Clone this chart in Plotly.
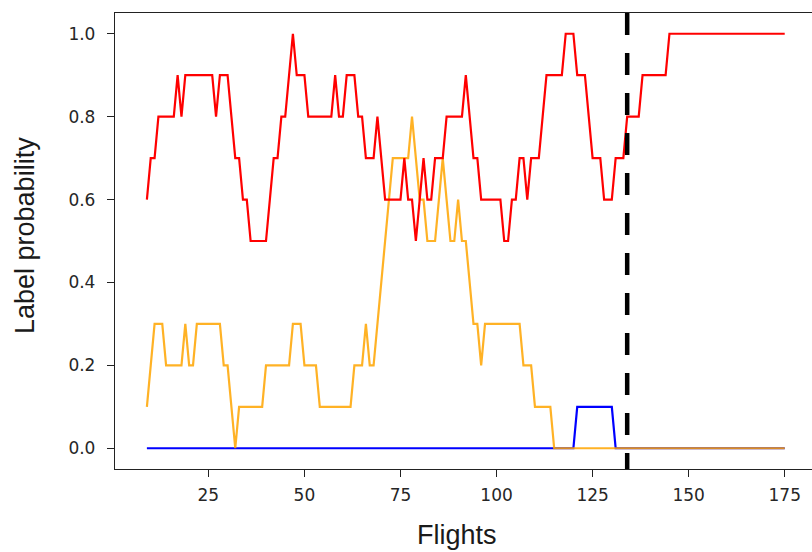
import plotly.graph_objects as go

flights = list(range(9, 176))

prob_red = [
    0.6, 0.7, 0.7, 0.8, 0.8, 0.8, 0.8, 0.8, 0.9, 0.8,   # 9-18
    0.9, 0.9, 0.9, 0.9, 0.9, 0.9, 0.9, 0.9, 0.8, 0.9,   # 19-28
    0.9, 0.9, 0.8, 0.7, 0.7, 0.6, 0.6, 0.5, 0.5, 0.5,   # 29-38
    0.5, 0.5, 0.6, 0.7, 0.7, 0.8, 0.8, 0.9, 1.0, 0.9,   # 39-48
    0.9, 0.9, 0.8, 0.8, 0.8, 0.8, 0.8, 0.8, 0.8, 0.9,   # 49-58
    0.8, 0.8, 0.9, 0.9, 0.9, 0.8, 0.8, 0.7, 0.7, 0.7,   # 59-68
    0.8, 0.7, 0.6, 0.6, 0.6, 0.6, 0.6, 0.7, 0.6, 0.6,   # 69-78
    0.5, 0.6, 0.7, 0.6, 0.6, 0.7, 0.7, 0.7, 0.8, 0.8,   # 79-88
    0.8, 0.8, 0.8, 0.9, 0.8, 0.7, 0.7, 0.6, 0.6, 0.6,   # 89-98
    0.6, 0.6, 0.6, 0.5, 0.5, 0.6, 0.6, 0.7, 0.7, 0.6,   # 99-108
    0.7, 0.7, 0.7, 0.8, 0.9, 0.9, 0.9, 0.9, 0.9, 1.0,   # 109-118
    1.0, 1.0, 0.9, 0.9, 0.9, 0.8, 0.7, 0.7, 0.7, 0.6,   # 119-128
    0.6, 0.6, 0.7, 0.7, 0.7, 0.8, 0.8, 0.8, 0.8, 0.9,   # 129-138
    0.9, 0.9, 0.9, 0.9, 0.9, 0.9, 1.0, 1.0, 1.0, 1.0,   # 139-148
    1.0, 1.0, 1.0, 1.0, 1.0, 1.0, 1.0, 1.0, 1.0, 1.0,   # 149-158
    1.0, 1.0, 1.0, 1.0, 1.0, 1.0, 1.0, 1.0, 1.0, 1.0,   # 159-168
    1.0, 1.0, 1.0, 1.0, 1.0, 1.0, 1.0,                  # 169-175
]

prob_orange = [
    0.1, 0.2, 0.3, 0.3, 0.3, 0.2, 0.2, 0.2, 0.2, 0.2,   # 9-18
    0.3, 0.2, 0.2, 0.3, 0.3, 0.3, 0.3, 0.3, 0.3, 0.3,   # 19-28
    0.2, 0.2, 0.1, 0.0, 0.1, 0.1, 0.1, 0.1, 0.1, 0.1,   # 29-38
    0.1, 0.2, 0.2, 0.2, 0.2, 0.2, 0.2, 0.2, 0.3, 0.3,   # 39-48
    0.3, 0.2, 0.2, 0.2, 0.2, 0.1, 0.1, 0.1, 0.1, 0.1,   # 49-58
    0.1, 0.1, 0.1, 0.1, 0.2, 0.2, 0.2, 0.3, 0.2, 0.2,   # 59-68
    0.3, 0.4, 0.5, 0.6, 0.7, 0.7, 0.7, 0.7, 0.7, 0.8,   # 69-78
    0.7, 0.6, 0.6, 0.5, 0.5, 0.5, 0.6, 0.7, 0.6, 0.5,   # 79-88
    0.5, 0.6, 0.5, 0.5, 0.4, 0.3, 0.3, 0.2, 0.3, 0.3,   # 89-98
    0.3, 0.3, 0.3, 0.3, 0.3, 0.3, 0.3, 0.3, 0.2, 0.2,   # 99-108
    0.2, 0.1, 0.1, 0.1, 0.1, 0.1, 0.0, 0.0, 0.0, 0.0,   # 109-118
    0.0, 0.0, 0.0, 0.0, 0.0, 0.0, 0.0, 0.0, 0.0, 0.0,   # 119-128
    0.0, 0.0, 0.0, 0.0, 0.0, 0.0, 0.0, 0.0, 0.0, 0.0,   # 129-138
    0.0, 0.0, 0.0, 0.0, 0.0, 0.0, 0.0, 0.0, 0.0, 0.0,   # 139-148
    0.0, 0.0, 0.0, 0.0, 0.0, 0.0, 0.0, 0.0, 0.0, 0.0,   # 149-158
    0.0, 0.0, 0.0, 0.0, 0.0, 0.0, 0.0, 0.0, 0.0, 0.0,   # 159-168
    0.0, 0.0, 0.0, 0.0, 0.0, 0.0, 0.0,                  # 169-175
]

prob_blue = [
    0.0, 0.0, 0.0, 0.0, 0.0, 0.0, 0.0, 0.0, 0.0, 0.0,   # 9-18
    0.0, 0.0, 0.0, 0.0, 0.0, 0.0, 0.0, 0.0, 0.0, 0.0,   # 19-28
    0.0, 0.0, 0.0, 0.0, 0.0, 0.0, 0.0, 0.0, 0.0, 0.0,   # 29-38
    0.0, 0.0, 0.0, 0.0, 0.0, 0.0, 0.0, 0.0, 0.0, 0.0,   # 39-48
    0.0, 0.0, 0.0, 0.0, 0.0, 0.0, 0.0, 0.0, 0.0, 0.0,   # 49-58
    0.0, 0.0, 0.0, 0.0, 0.0, 0.0, 0.0, 0.0, 0.0, 0.0,   # 59-68
    0.0, 0.0, 0.0, 0.0, 0.0, 0.0, 0.0, 0.0, 0.0, 0.0,   # 69-78
    0.0, 0.0, 0.0, 0.0, 0.0, 0.0, 0.0, 0.0, 0.0, 0.0,   # 79-88
    0.0, 0.0, 0.0, 0.0, 0.0, 0.0, 0.0, 0.0, 0.0, 0.0,   # 89-98
    0.0, 0.0, 0.0, 0.0, 0.0, 0.0, 0.0, 0.0, 0.0, 0.0,   # 99-108
    0.0, 0.0, 0.0, 0.0, 0.0, 0.0, 0.0, 0.0, 0.0, 0.0,   # 109-118
    0.0, 0.0, 0.1, 0.1, 0.1, 0.1, 0.1, 0.1, 0.1, 0.1,   # 119-128
    0.1, 0.1, 0.0, 0.0, 0.0, 0.0, 0.0, 0.0, 0.0, 0.0,   # 129-138
    0.0, 0.0, 0.0, 0.0, 0.0, 0.0, 0.0, 0.0, 0.0, 0.0,   # 139-148
    0.0, 0.0, 0.0, 0.0, 0.0, 0.0, 0.0, 0.0, 0.0, 0.0,   # 149-158
    0.0, 0.0, 0.0, 0.0, 0.0, 0.0, 0.0, 0.0, 0.0, 0.0,   # 159-168
    0.0, 0.0, 0.0, 0.0, 0.0, 0.0, 0.0,                  # 169-175
]

split_flight = 134
x_ticks = [25, 50, 75, 100, 125, 150, 175]
y_ticks = [0.0, 0.2, 0.4, 0.6, 0.8, 1.0]
x_label = "Flights"
y_label = "Label probability"

fig = go.Figure()
fig.add_trace(go.Scatter(x=flights, y=prob_blue, mode="lines",
                         line=dict(color="#0000ff", width=2.2), showlegend=False))
fig.add_trace(go.Scatter(x=flights, y=prob_orange, mode="lines", opacity=0.85,
                         line=dict(color="#ffa500", width=2.2), showlegend=False))
fig.add_trace(go.Scatter(x=flights, y=prob_red, mode="lines",
                         line=dict(color="#ff0000", width=2.2), showlegend=False))

fig.add_shape(type="line", xref="x", yref="paper", x0=split_flight, x1=split_flight,
              y0=1, y1=0, line=dict(color="black", width=4.5, dash="22px,18px"))

tick_font = dict(family="DejaVu Sans", size=17, color="#262626")
fig.update_xaxes(range=[0.7, 182.1], tickvals=x_ticks, ticks="outside", ticklen=7,
                 tickwidth=1.2, tickcolor="#222", showline=True, linecolor="#222",
                 linewidth=1.3, mirror=True, showgrid=False, zeroline=False,
                 tickfont=tick_font, ticklabelstandoff=3)
fig.update_yaxes(range=[-0.05, 1.05], tickvals=y_ticks, tickformat=".1f", ticks="outside",
                 ticklen=7, tickwidth=1.2, tickcolor="#222", showline=True, linecolor="#222",
                 linewidth=1.3, showgrid=False, zeroline=False, tickfont=tick_font,
                 ticklabelstandoff=8)

label_font = dict(family="Liberation Sans, Arial, sans-serif", size=27, color="#1a1a1a")
fig.add_annotation(text=x_label, xref="paper", yref="paper", x=0.4907, y=-0.1447,
                   xanchor="center", yanchor="middle", showarrow=False, font=label_font)
fig.add_annotation(text=y_label, xref="paper", yref="paper", x=-0.1291, y=0.511,
                   xanchor="center", yanchor="middle", textangle=-90, showarrow=False,
                   font=label_font)

fig.update_layout(width=812, height=552, margin=dict(l=115, r=0, t=13, b=83),
                  plot_bgcolor="white", paper_bgcolor="white")

fig.write_html("out.html")
